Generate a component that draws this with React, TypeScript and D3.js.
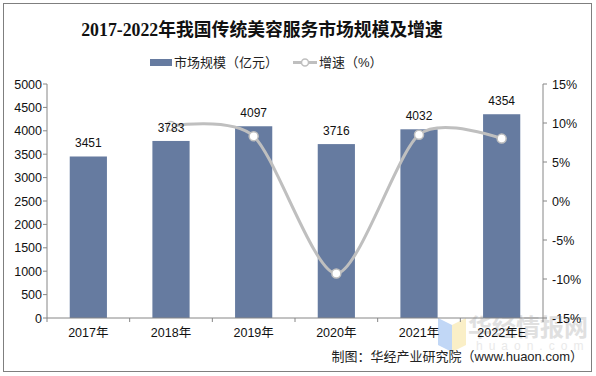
import React from "react";
import * as d3 from "d3";

const categories = ["2017年", "2018年", "2019年", "2020年", "2021年", "2022年E"];
const marketSize = [3451, 3783, 4097, 3716, 4032, 4354];
const growth: (number | null)[] = [null, 9.6, 8.3, -9.3, 8.5, 8.0];
const leftTicks = [0, 500, 1000, 1500, 2000, 2500, 3000, 3500, 4000, 4500, 5000];
const rightTicks = [-15, -10, -5, 0, 5, 10, 15];

const W = 596, H = 376;
const left = 47, right = 543, top = 84, bottom = 318;

export default function App() {
  const x = d3.scaleBand<string>().domain(categories).range([left, right]).padding(0);
  const yL = d3.scaleLinear().domain([0, 5000]).range([bottom, top]);
  const yR = d3.scaleLinear().domain([-15, 15]).range([bottom, top]);
  const barW = x.bandwidth() * 0.45;
  const pts = growth
    .map((g, i) => (g == null ? null : ([x(categories[i])! + x.bandwidth() / 2, yR(g)] as [number, number])))
    .filter((p): p is [number, number] => p !== null);
  const line = d3.line().curve(d3.curveCardinal.tension(0.2))(pts) || "";
  const axisColor = "#868686";
  const font = "Arial, 'Liberation Sans', 'Noto Sans CJK SC', sans-serif";
  return (
    <svg width={W} height={H} style={{ position: "absolute", left: 0, top: 0 }} fontFamily={font}>
      <rect x={0} y={0} width={W} height={H} fill="#fff" />
      <rect x={3.5} y={3.5} width={588} height={368} fill="none" stroke="#7f7f7f" strokeWidth={1} />
      <text x={262} y={36} textAnchor="middle" fontSize={17.8} fontWeight="bold"
        fontFamily="'Liberation Serif', 'Noto Sans CJK SC', serif" fill="#111">
        2017-2022年我国传统美容服务市场规模及增速
      </text>
      {/* legend */}
      <rect x={150} y={59} width={22} height={7} fill="#667ba0" />
      <text x={174} y={67} fontSize={13} fill="#222">市场规模（亿元）</text>
      <line x1={293} y1={62.5} x2={317} y2={62.5} stroke="#bfbfbf" strokeWidth={3} />
      <circle cx={305} cy={62.5} r={3.5} fill="#fff" stroke="#bfbfbf" strokeWidth={1.5} />
      <text x={319} y={67} fontSize={13} fill="#222">增速（%）</text>

      {/* watermark */}
      <g opacity={0.55}>
        <polygon points="438,318 452,325 452,352 438,345" fill="#8fb8f0" />
        <polygon points="452,325 466,318 466,345 452,352" fill="#f7e39a" />
        <text x={468} y={336} fontSize={24} fontWeight="bold" fill="#c8c8c8" fontFamily="'Noto Sans CJK SC', sans-serif">华经情报网</text>
        <text x={476} y={350} fontSize={12} fill="#d8d8d8" letterSpacing={6}>huaon.com</text>
      </g>

      {/* bars */}
      {marketSize.map((v, i) => (
        <rect key={i} x={x(categories[i])! + (x.bandwidth() - barW) / 2} y={yL(v)} width={barW}
          height={bottom - yL(v)} fill="#667ba0" />
      ))}

      {/* axes */}
      <line x1={left} y1={top} x2={left} y2={bottom} stroke={axisColor} />
      <line x1={right} y1={top} x2={right} y2={bottom} stroke={axisColor} />
      <line x1={left} y1={bottom} x2={right} y2={bottom} stroke={axisColor} />
      {leftTicks.map((t) => (
        <g key={t}>
          <line x1={left - 4} x2={left} y1={yL(t)} y2={yL(t)} stroke={axisColor} />
          <text x={left - 5} y={yL(t) + 4.5} textAnchor="end" fontSize={12.5} fill="#111">{t}</text>
        </g>
      ))}
      {rightTicks.map((t) => (
        <g key={t}>
          <line x1={right} x2={right + 4} y1={yR(t)} y2={yR(t)} stroke={axisColor} />
          <text x={right + 9} y={yR(t) + 4.5} textAnchor="start" fontSize={12.5} fill="#111">{t}%</text>
        </g>
      ))}
      {categories.map((c, i) => (
        <g key={c}>
          <line x1={x(c)!} x2={x(c)!} y1={bottom} y2={bottom + 4} stroke={axisColor} />
          <text x={x(c)! + x.bandwidth() / 2} y={bottom + 19} textAnchor="middle" fontSize={12.5} fill="#111">{c}</text>
          {i === categories.length - 1 && (
            <line x1={right} x2={right} y1={bottom} y2={bottom + 4} stroke={axisColor} />
          )}
        </g>
      ))}

      {/* growth line */}
      <path d={line} fill="none" stroke="#bfbfbf" strokeWidth={3} />
      {pts.map((p, i) => (
        <circle key={i} cx={p[0]} cy={p[1]} r={4.5} fill="#fff" stroke="#bfbfbf" strokeWidth={1.5} />
      ))}

      {/* data labels */}
      {marketSize.map((v, i) => (
        <text key={i} x={x(categories[i])! + x.bandwidth() / 2} y={yL(v) - 9} textAnchor="middle" fontSize={12} fill="#111">{v}</text>
      ))}

      <text x={583} y={361} textAnchor="end" fontSize={13} fill="#222">制图：华经产业研究院（www.huaon.com）</text>
    </svg>
  );
}
